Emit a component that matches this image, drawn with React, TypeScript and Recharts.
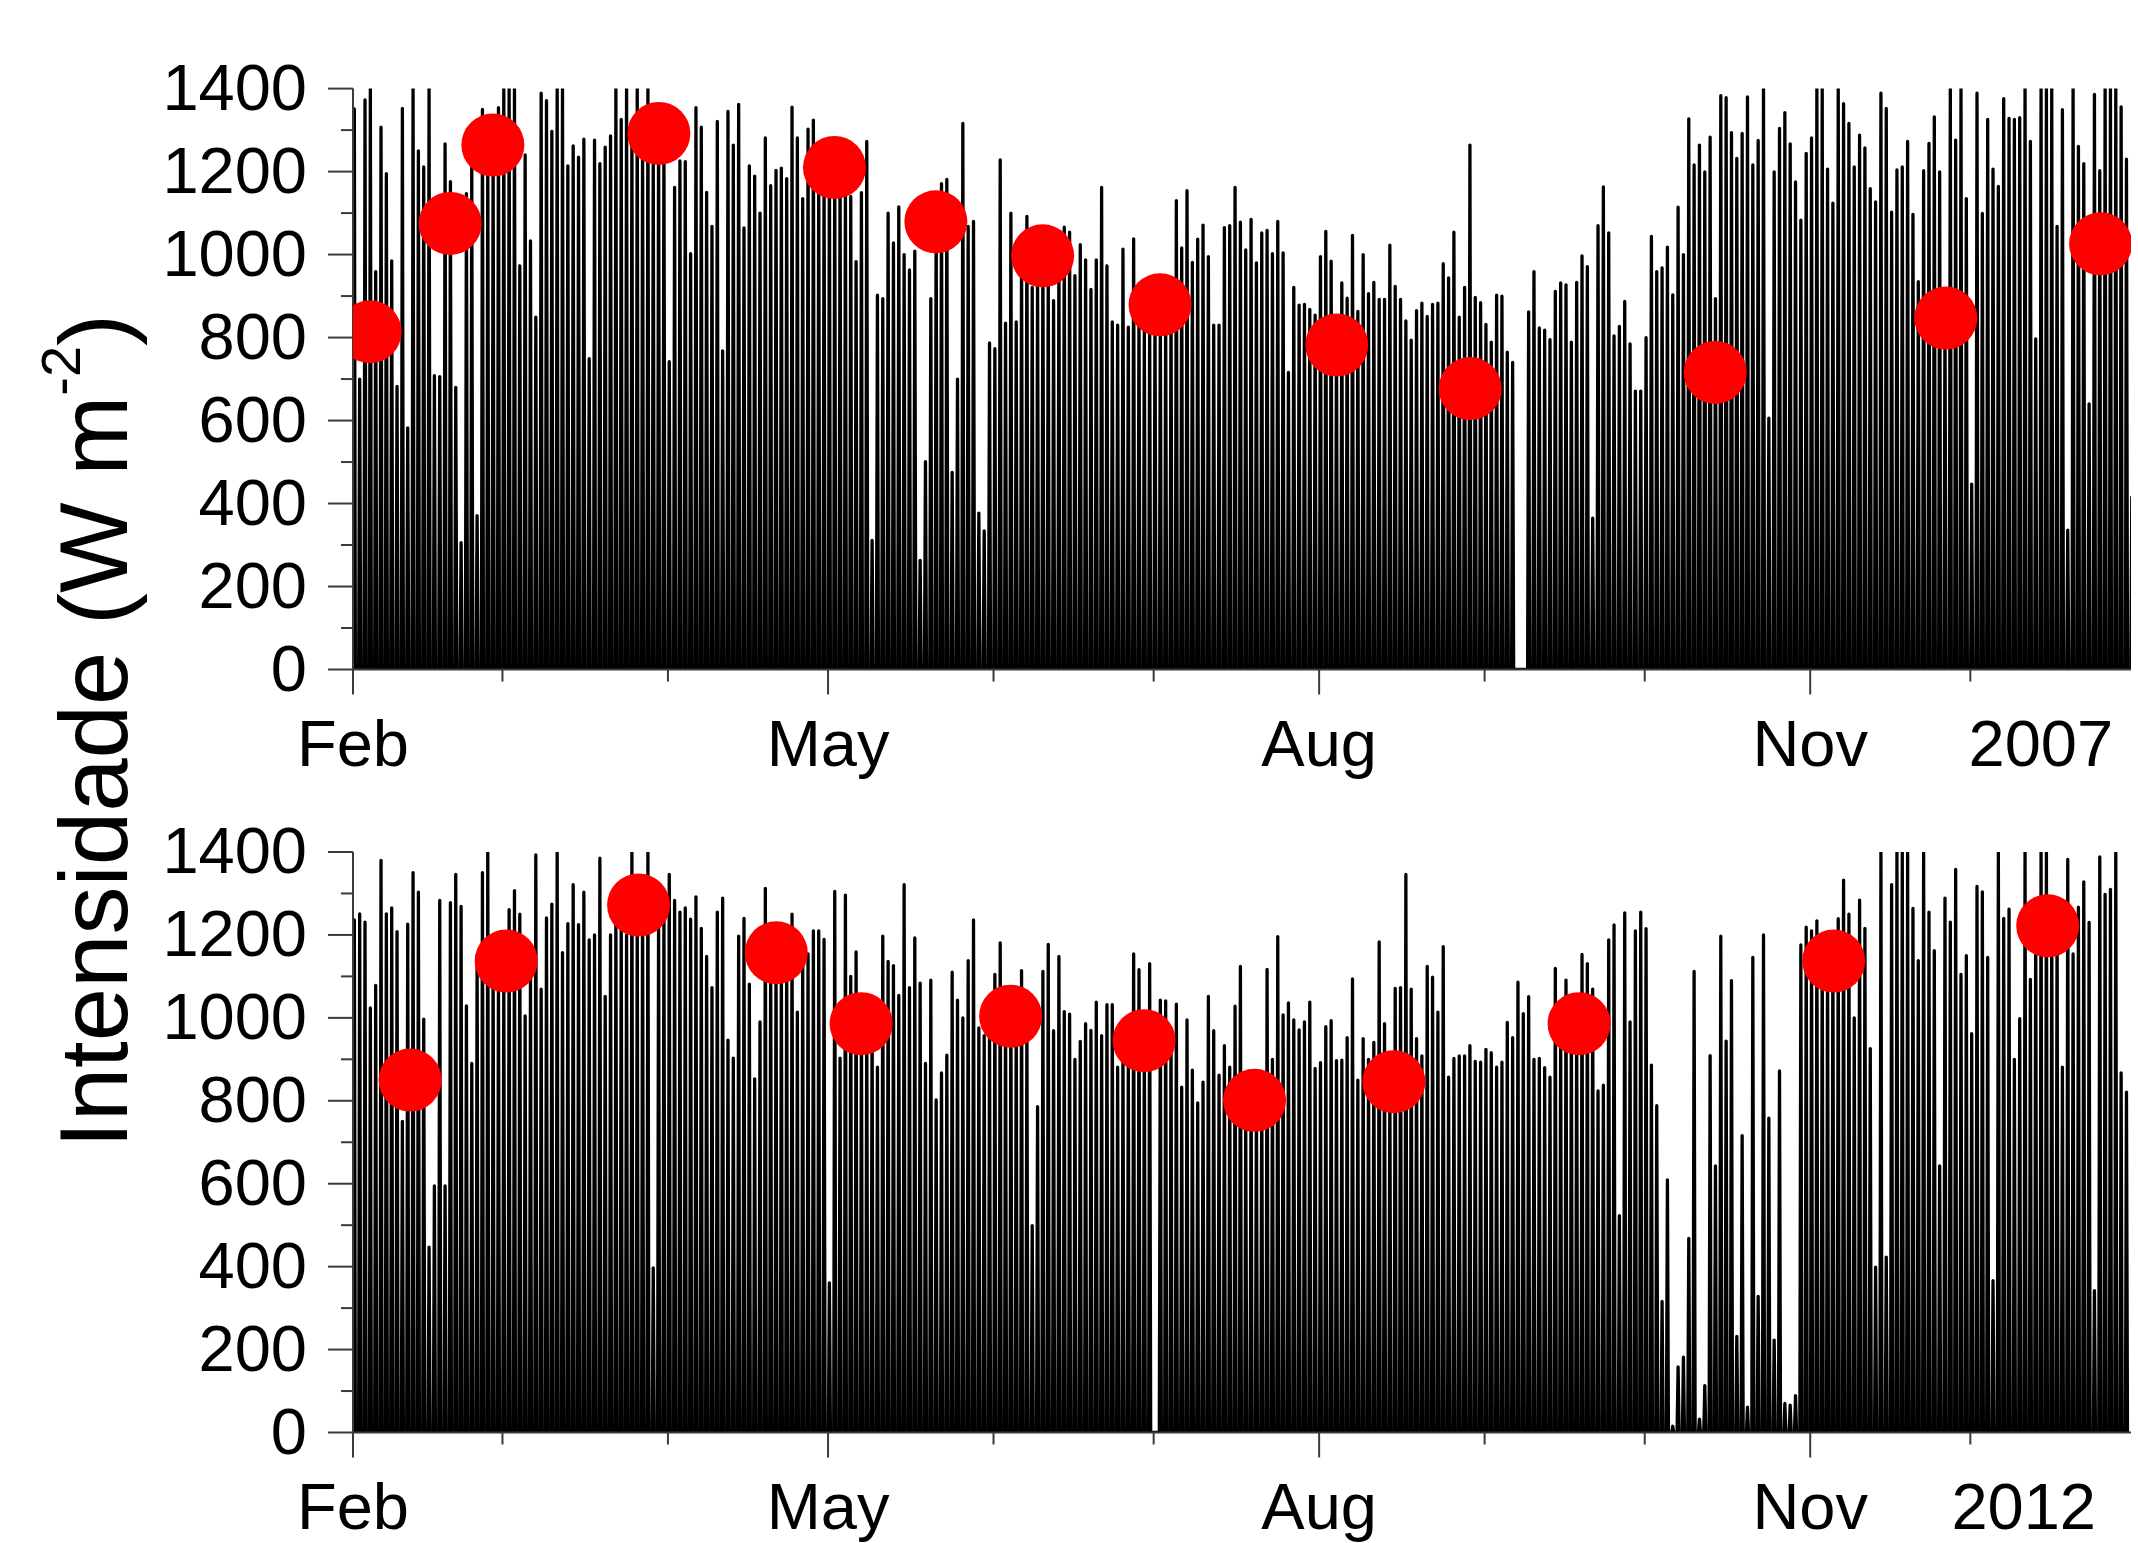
import React from 'react';
import { ComposedChart, Line, Scatter, XAxis, YAxis } from 'recharts';

const FONT = '"Liberation Sans", Arial, Helvetica, sans-serif';
const AXIS_COLOR = '#3a3a3a';

// Daily peak irradiance (W m-2), 2006 panel, one value per day from 1 Feb
const topPeaks = [
  1351, 700, 1373, 1400, 959, 1307, 1195, 985, 682, 1352,
  582, 1400, 1250, 1211, 1400, 708, 706, 1267, 1176, 680,
  306, 1147, 1219, 371, 1350, 1250, 1260, 1354, 1400, 1400,
  1400, 973, 1240, 1033, 849, 1389, 1371, 1297, 1400, 1400,
  1214, 1262, 1235, 1278, 749, 1276, 1219, 1259, 1286, 1400,
  1326, 1400, 1300, 1400, 1280, 1400, 1250, 1300, 1280, 742,
  1162, 1226, 1224, 1002, 1354, 1307, 1150, 1068, 1321, 768,
  1345, 1264, 1362, 1064, 1214, 1189, 1100, 1281, 1166, 1203,
  1208, 1183, 1355, 1281, 1135, 1302, 1324, 1200, 1200, 1250,
  1230, 1200, 1180, 1140, 983, 1149, 1273, 311, 902, 894,
  1100, 1028, 1115, 1000, 963, 1008, 263, 501, 894, 1100,
  1171, 1181, 475, 700, 1316, 1068, 1080, 377, 334, 787,
  773, 1228, 835, 1100, 838, 997, 1092, 921, 949, 1000,
  949, 889, 997, 1066, 1054, 949, 1024, 987, 916, 987,
  1162, 973, 838, 830, 1013, 825, 1038, 873, 816, 825,
  850, 850, 854, 873, 1130, 1016, 1154, 981, 1037, 1071,
  995, 830, 830, 1065, 1070, 1162, 1078, 1011, 1085, 980,
  1052, 1058, 1002, 1080, 1004, 716, 921, 878, 880, 868,
  854, 995, 1056, 984, 800, 932, 895, 1046, 863, 1000,
  906, 933, 892, 892, 1023, 923, 892, 840, 794, 865,
  883, 851, 880, 883, 978, 944, 1054, 849, 921, 1264,
  897, 884, 832, 789, 902, 900, 765, 740, 0, 0,
  862, 959, 823, 818, 795, 911, 932, 927, 789, 933,
  997, 971, 365, 1070, 1163, 1052, 804, 827, 887, 785,
  671, 671, 800, 1044, 959, 968, 1018, 903, 1114, 1000,
  1327, 1216, 1264, 1199, 1283, 894, 1383, 1378, 1294, 1232,
  1292, 1380, 1216, 1275, 1400, 606, 1199, 1304, 1342, 1267,
  1175, 1083, 1244, 1281, 1400, 1400, 1206, 1124, 1400, 1364,
  1316, 1211, 1288, 1257, 1159, 1127, 1389, 1352, 1102, 1204,
  1211, 1273, 1097, 935, 1202, 1268, 1332, 1199, 850, 1400,
  1276, 1400, 1135, 447, 1389, 1099, 1326, 1206, 1164, 1376,
  1328, 1326, 1330, 1400, 1273, 797, 1400, 1400, 1400, 1068,
  1349, 336, 1400, 1261, 1219, 640, 1386, 1202, 1400, 1400,
  1400, 1356, 1230, 415,
];

// Daily peak irradiance (W m-2), 2011 panel, one value per day from 1 Feb
const bottomPeaks = [
  1236, 1251, 1231, 1024, 1078, 1380, 1251, 1265, 1208, 750,
  1226, 1350, 1303, 997, 447, 595, 1283, 595, 1278, 1346,
  1269, 1029, 890, 1150, 1350, 1399, 1150, 1100, 1100, 1261,
  1307, 1250, 1005, 1100, 1393, 1069, 1241, 1274, 1399, 1157,
  1227, 1321, 1225, 1303, 1188, 1200, 1385, 1052, 1200, 1250,
  1250, 1200, 1399, 1250, 1300, 1399, 397, 1250, 1250, 1346,
  1283, 1255, 1265, 1238, 1292, 1216, 1148, 1073, 1255, 1289,
  946, 903, 1197, 1240, 1081, 853, 990, 1312, 1150, 1150,
  1150, 1150, 1250, 1014, 1153, 1154, 1210, 1210, 1189, 361,
  1305, 903, 1296, 1100, 1159, 1000, 1000, 1000, 881, 1197,
  1136, 1126, 1054, 1321, 1073, 1193, 1084, 890, 1091, 802,
  867, 910, 1110, 1043, 1000, 1138, 1236, 976, 957, 976,
  1105, 1181, 1050, 1050, 1000, 1114, 976, 499, 786, 1112,
  1177, 969, 1148, 1015, 1009, 900, 943, 986, 970, 1038,
  957, 1032, 1032, 881, 930, 881, 1154, 1116, 950, 1131,
  0, 1043, 1041, 976, 1033, 833, 995, 874, 795, 845,
  1052, 969, 862, 933, 881, 1028, 1124, 750, 850, 800,
  850, 1117, 900, 1196, 1007, 1036, 995, 971, 990, 1038,
  878, 892, 979, 993, 897, 898, 952, 1094, 850, 950,
  900, 941, 1183, 986, 850, 1071, 1073, 1346, 1069, 950,
  908, 1124, 1098, 1014, 1172, 857, 902, 908, 908, 933,
  895, 893, 924, 916, 881, 893, 989, 952, 1086, 1010,
  1051, 900, 902, 880, 857, 1119, 950, 1091, 1000, 1000,
  1153, 1131, 1069, 824, 838, 1188, 1224, 523, 1253, 990,
  1210, 1255, 1215, 886, 788, 316, 609, 15, 158, 182,
  468, 1112, 32, 113, 909, 643, 1197, 944, 1090, 232,
  716, 61, 1146, 328, 1200, 758, 223, 872, 70, 66,
  89, 1176, 1219, 1210, 1234, 1180, 1150, 1200, 1239, 1332,
  1250, 1000, 1284, 1216, 926, 399, 1399, 423, 1321, 1399,
  1399, 1399, 1264, 1138, 1399, 1255, 1162, 643, 1289, 1231,
  1358, 1105, 1150, 962, 1317, 1304, 1146, 366, 1399, 1240,
  1262, 900, 998, 1399, 1093, 1250, 1399, 1399, 1250, 1250,
  881, 1382, 1154, 1267, 1328, 1230, 342, 1388, 1298, 1310,
  1399, 867, 821,
];

// Red markers (day since 1 Feb, value)
const topDotDays = [3.2, 18.2, 26.2, 57.3, 90.2, 109.2, 129.2, 151.2, 184.3, 209.3, 255.2, 298.4, 327.4];
const topDotValues = [814, 1075, 1264, 1292, 1210, 1079, 997, 879, 782, 677, 716, 847, 1026];
const bottomDotDays = [10.7, 28.7, 53.5, 79.3, 95.2, 123.2, 148.2, 168.9, 195, 229.7, 277.4, 317.5];
const bottomDotValues = [850, 1137, 1272, 1157, 986, 1004, 945, 801, 846, 986, 1137, 1222];

// Axis ticks
const monthTickDays = [0, 28, 59, 89, 120, 150, 181, 212, 242, 273, 303];
const monthTickLabels = ['Feb', '', '', 'May', '', '', 'Aug', '', '', 'Nov', ''];
const yTicks = [0, 100, 200, 300, 400, 500, 600, 700, 800, 900, 1000, 1100, 1200, 1300, 1400];
const yLabelStep = 200;
const xDomain = [0, 333.1];
const yDomain = [0, 1400];

// One daytime pulse per day: sunrise -> daily peak -> sunset (zero at night)
function buildSeries(peaks: number[]) {
  const out: { t: number; v: number }[] = [];
  peaks.forEach((p, i) => {
    out.push({ t: i + 0.06, v: 0 });
    out.push({ t: i + 0.25, v: Math.min(p, 1400) });
    out.push({ t: i + 0.44, v: 0 });
  });
  return out;
}

const XTick = (props: any) => {
  const { x, y, payload, yearDay, yearLabel } = props;
  const v = payload.value;
  if (v === yearDay) {
    return (
      <text x={x} y={y + 96} textAnchor="middle" fontFamily={FONT} fontSize={65} fill="#000">
        {yearLabel}
      </text>
    );
  }
  const idx = monthTickDays.indexOf(v);
  const label = idx >= 0 ? monthTickLabels[idx] : '';
  const major = label !== '';
  return (
    <g>
      <line x1={x} x2={x} y1={y} y2={y + (major ? 25 : 12)} stroke={AXIS_COLOR} strokeWidth={2} />
      {major && (
        <text x={x} y={y + 96} textAnchor="middle" fontFamily={FONT} fontSize={65} fill="#000">
          {label}
        </text>
      )}
    </g>
  );
};

const YTick = (props: any) => {
  const { x, y, payload } = props;
  const v = payload.value;
  const major = v % yLabelStep === 0;
  return (
    <g>
      <line x1={x - (major ? 25 : 12)} x2={x} y1={y} y2={y} stroke={AXIS_COLOR} strokeWidth={2} />
      {major && (
        <text x={x - 46} y={y + 21} textAnchor="end" fontFamily={FONT} fontSize={65} fill="#000">
          {v}
        </text>
      )}
    </g>
  );
};

type PanelProps = {
  peaks: number[];
  dotDays: number[];
  dotValues: number[];
  yearLabel: string;
  yearDay: number;
  top: number;
  height: number;
  marginTop: number;
  xAxisHeight: number;
};

function Panel(props: PanelProps) {
  const { peaks, dotDays, dotValues, yearLabel, yearDay, top, height, marginTop, xAxisHeight } = props;
  const series = buildSeries(peaks);
  const dots = dotDays.map((d, i) => ({ t: d, v: dotValues[i] }));
  const xTicks = [...monthTickDays, yearDay];
  return (
    <div style={{ position: 'absolute', left: 0, top, width: 2138, height }}>
      <ComposedChart width={2138} height={height} margin={{ top: marginTop, right: 7, bottom: 0, left: 0 }}>
        <XAxis
          dataKey="t"
          type="number"
          domain={xDomain}
          allowDataOverflow
          ticks={xTicks}
          interval={0}
          tickLine={false}
          tickSize={0}
          tickMargin={0}
          height={xAxisHeight}
          axisLine={{ stroke: AXIS_COLOR, strokeWidth: 2 }}
          tick={(p: any) => <XTick {...p} yearDay={yearDay} yearLabel={yearLabel} />}
        />
        <YAxis
          dataKey="v"
          type="number"
          domain={yDomain}
          allowDataOverflow
          ticks={yTicks}
          interval={0}
          width={353}
          tickLine={false}
          tickSize={0}
          tickMargin={0}
          axisLine={{ stroke: AXIS_COLOR, strokeWidth: 2 }}
          tick={(p: any) => <YTick {...p} />}
        />
        <Line
          data={series}
          dataKey="v"
          type="linear"
          stroke="#000"
          strokeWidth={3.3}
          strokeLinejoin="round"
          dot={false}
          activeDot={false}
          isAnimationActive={false}
        />
        <Scatter
          data={dots}
          dataKey="v"
          fill="#ff0000"
          isAnimationActive={false}
          shape={(p: any) => <circle cx={p.cx} cy={p.cy} r={31.5} fill="#ff0000" />}
        />
      </ComposedChart>
    </div>
  );
}

export default function App() {
  return (
    <div style={{ position: 'absolute', left: 0, top: 0, width: 2138, height: 1543, background: '#fff' }}>
      <Panel
        peaks={topPeaks}
        dotDays={topDotDays}
        dotValues={topDotValues}
        yearLabel="2007"
        yearDay={316.2}
        top={0}
        height={800}
        marginTop={88.6}
        xAxisHeight={130.5}
      />
      <Panel
        peaks={bottomPeaks}
        dotDays={bottomDotDays}
        dotValues={bottomDotValues}
        yearLabel="2012"
        yearDay={313}
        top={763}
        height={780}
        marginTop={89}
        xAxisHeight={110.5}
      />
      <svg
        width={2138}
        height={1543}
        style={{ position: 'absolute', left: 0, top: 0, pointerEvents: 'none' }}
      >
        <text
          transform="translate(127,731) rotate(-90)"
          textAnchor="middle"
          fontFamily={FONT}
          fontSize={96}
          fill="#000"
        >
          Intensidade (W m
          <tspan fontSize={56} dy={-47}>-2</tspan>
          <tspan dy={47}>)</tspan>
        </text>
      </svg>
    </div>
  );
}
